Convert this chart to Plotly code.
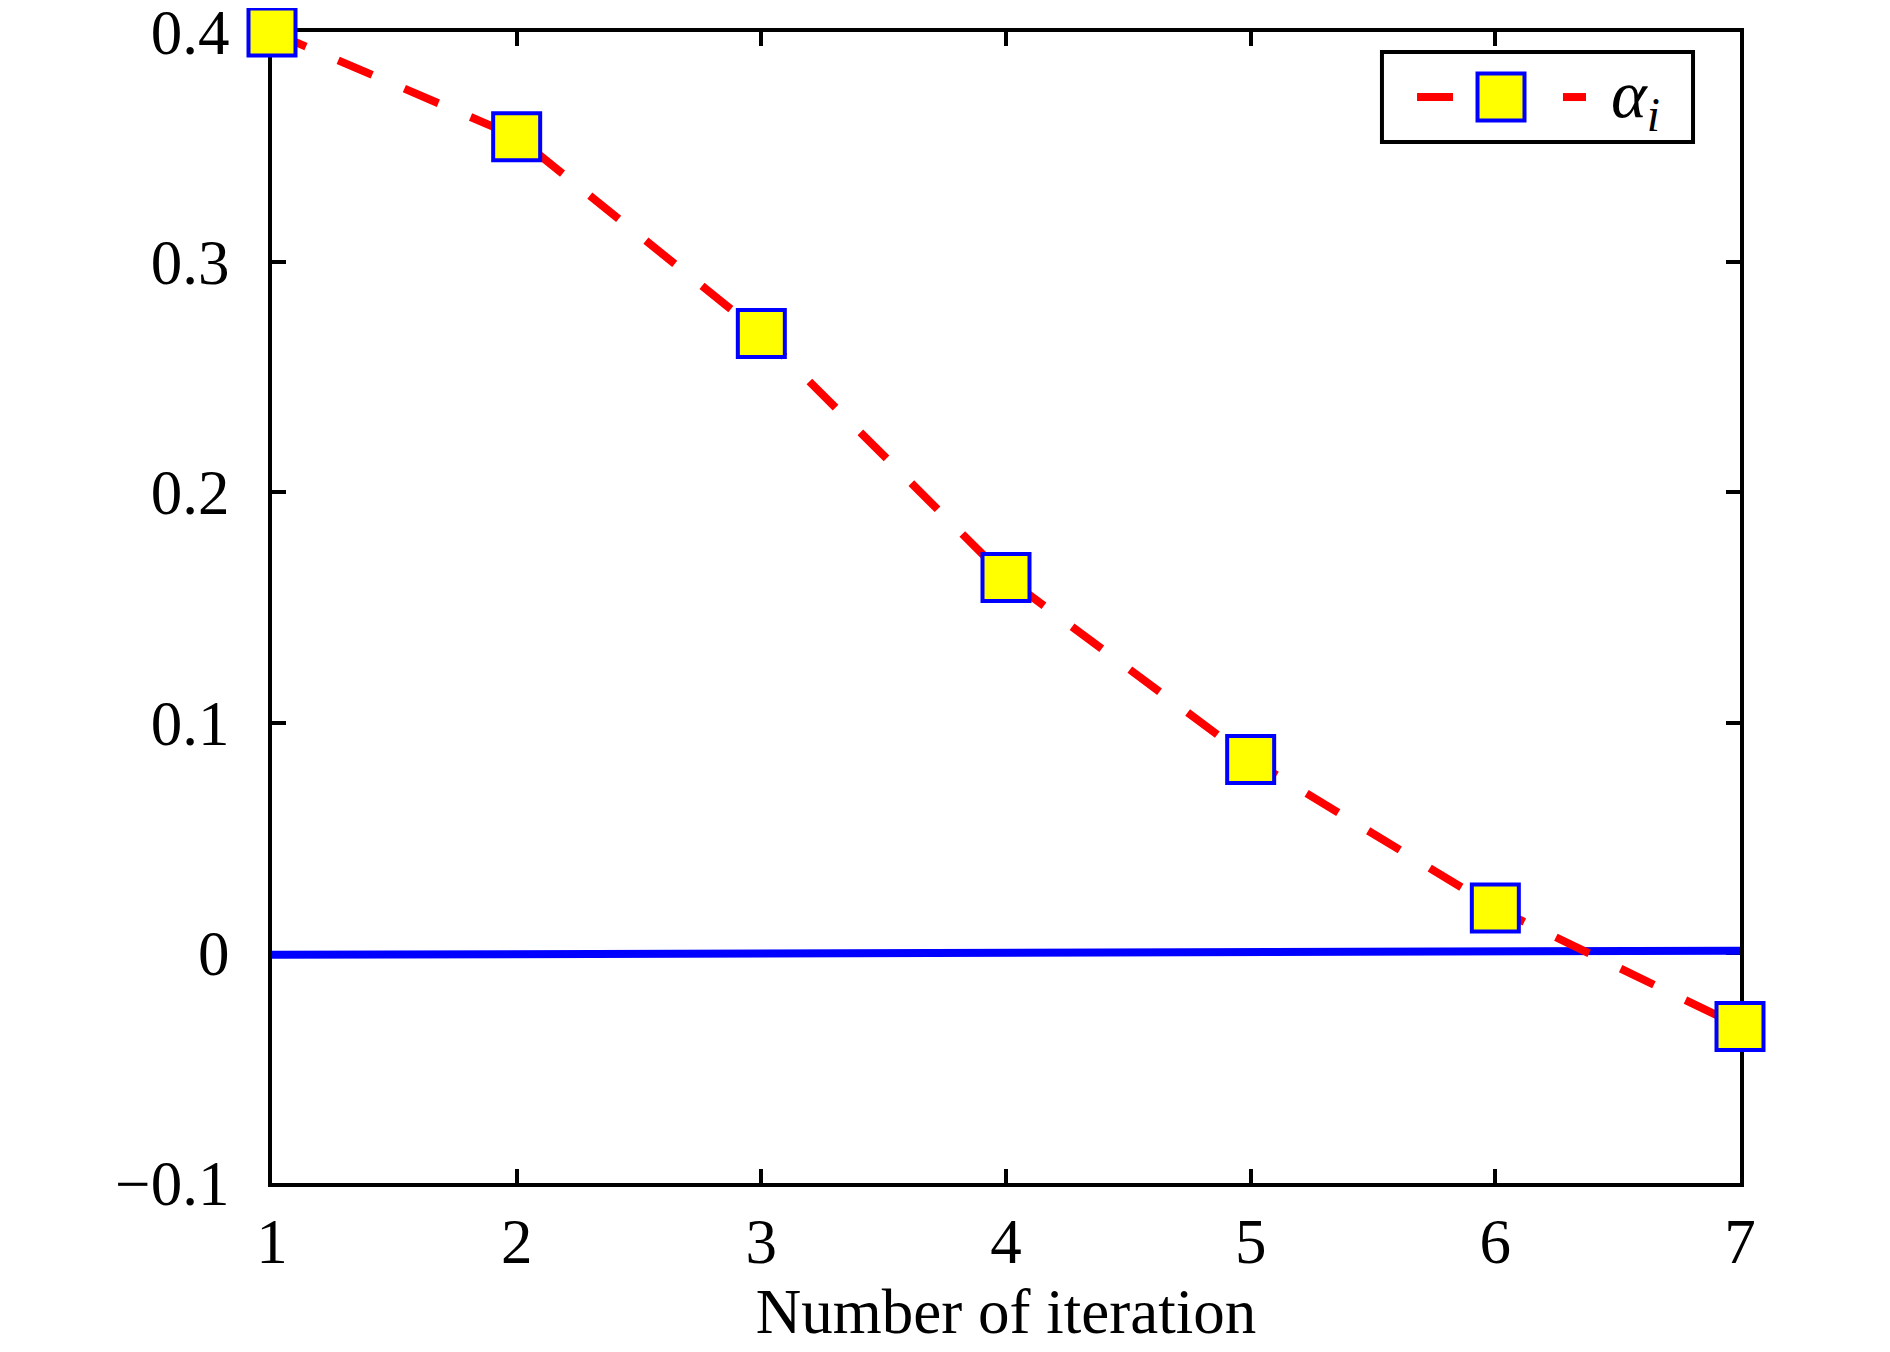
import plotly.graph_objects as go

# data
iterations = [1, 2, 3, 4, 5, 6, 7]
alpha_i = [0.400, 0.3545, 0.2690, 0.1630, 0.0840, 0.0195, -0.0320]
zero_ref = [-0.0009, -0.0007, -0.0005, -0.0002, 0.0001, 0.0005, 0.0009]

x_ticks = [1, 2, 3, 4, 5, 6, 7]
y_ticks = [-0.1, 0, 0.1, 0.2, 0.3, 0.4]
y_labels = ["\u22120.1", "0", "0.1", "0.2", "0.3", "0.4"]

FONT = "Liberation Serif"
FS = 63

fig = go.Figure()

# nearly flat blue line at zero
fig.add_trace(go.Scatter(x=iterations, y=zero_ref, mode="lines",
                         line=dict(color="#0000FF", width=8),
                         showlegend=False, cliponaxis=False))

# alpha_i, red dashed with yellow squares
fig.add_trace(go.Scatter(x=iterations, y=alpha_i, mode="lines+markers",
                         line=dict(color="#FF0000", width=8, dash="37px,35px"),
                         marker=dict(symbol="square", size=47, color="#FFFF00",
                                     line=dict(color="#0000FF", width=4)),
                         showlegend=False, cliponaxis=False))

axis_common = dict(showgrid=False, zeroline=False, showline=True,
                   linecolor="black", linewidth=4, mirror="ticks",
                   ticks="inside", ticklen=14, tickwidth=4, tickcolor="black",
                   tickfont=dict(family=FONT, size=FS, color="black"),
                   layer="below traces", automargin=False,
                   ticklabeloverflow="allow")

fig.update_xaxes(range=[1, 7], tickvals=x_ticks, ticklabelstandoff=0,
                 title=dict(text="Number of iteration",
                            font=dict(family=FONT, size=FS, color="black"),
                            standoff=6),
                 **axis_common)
fig.update_yaxes(range=[-0.1, 0.4], tickvals=y_ticks, ticktext=y_labels,
                 ticklabelstandoff=26, **axis_common)

# hand-drawn legend box (plotly caps legend marker size)
fig.add_shape(type="rect", xref="paper", yref="paper",
              x0=0.7561, x1=0.9680, y0=0.9044, y1=0.9826,
              line=dict(color="black", width=4), fillcolor="white")
fig.add_shape(type="line", xref="paper", yref="paper",
              x0=0.780, x1=0.8045, y0=0.9435, y1=0.9435,
              line=dict(color="#FF0000", width=8))
fig.add_shape(type="line", xref="paper", yref="paper",
              x0=0.8794, x1=0.8951, y0=0.9435, y1=0.9435,
              line=dict(color="#FF0000", width=8))
fig.add_shape(type="rect", xref="paper", yref="paper",
              x0=0.8212, x1=0.8532, y0=0.9231, y1=0.9640,
              line=dict(color="#0000FF", width=4), fillcolor="#FFFF00")
fig.add_annotation(xref="paper", yref="paper", x=0.9110, y=0.9425,
                   xanchor="left", yanchor="middle", showarrow=False,
                   text="<i>α<sub>i</sub></i>",
                   font=dict(family=FONT, size=68, color="black"))

# page body has an 8px margin, so the figure is 8px smaller each way
fig.update_layout(width=1882, height=1344,
                  margin=dict(l=264, r=150, t=24, b=169),
                  paper_bgcolor="white", plot_bgcolor="white",
                  showlegend=False)

fig.write_html("out.html")
